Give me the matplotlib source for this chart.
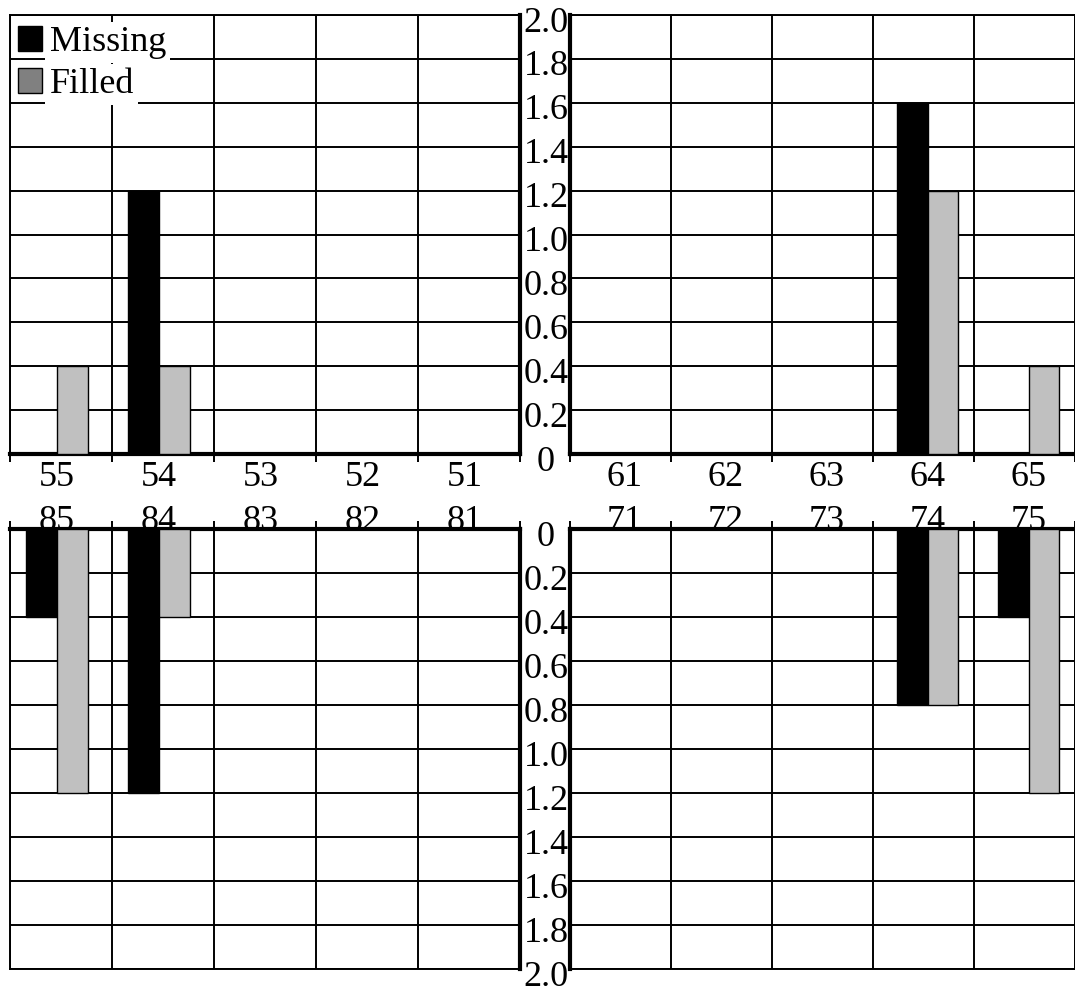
import matplotlib
matplotlib.use('Agg')
import matplotlib.pyplot as plt
import matplotlib.transforms as mtransforms
from matplotlib.patches import Patch
import numpy as np

# tooth numbers per quadrant
upper_left_teeth = ['55', '54', '53', '52', '51']
upper_right_teeth = ['61', '62', '63', '64', '65']
lower_left_teeth = ['85', '84', '83', '82', '81']
lower_right_teeth = ['71', '72', '73', '74', '75']

# values
upper_left_missing = [0, 1.2, 0, 0, 0]
upper_left_filled = [0.4, 0.4, 0, 0, 0]
upper_right_missing = [0, 0, 0, 1.6, 0]
upper_right_filled = [0, 0, 0, 1.2, 0.4]
lower_left_missing = [0.4, 1.2, 0, 0, 0]
lower_left_filled = [1.2, 0.4, 0, 0, 0]
lower_right_missing = [0, 0, 0, 0.8, 0.4]
lower_right_filled = [0, 0, 0, 0.8, 1.2]

y_ticks = [0, 0.2, 0.4, 0.6, 0.8, 1.0, 1.2, 1.4, 1.6, 1.8, 2.0]
y_labels = ['0', '0.2', '0.4', '0.6', '0.8', '1.0', '1.2', '1.4', '1.6', '1.8', '2.0']

plt.rcParams['font.family'] = ['Liberation Serif', 'DejaVu Serif']
FS = 26
GRID_LW = 1.4
THICK_LW = 3.0

W, H = 1075, 990
fig = plt.figure(figsize=(W / 100, H / 100), dpi=100)


def px_axes(x0, y0, x1, y1):
    # axes from pixel box (top-left origin)
    return fig.add_axes([x0 / W, 1 - y1 / H, (x1 - x0) / W, (y1 - y0) / H])


def draw_panel(ax, teeth, missing, filled, upper, left):
    x = np.arange(len(teeth))
    ax.bar(x - 0.15, missing, 0.3, color='black', edgecolor='black', linewidth=1, zorder=3)
    ax.bar(x + 0.15, filled, 0.3, color='#c0c0c0', edgecolor='black', linewidth=1, zorder=3)

    shift = 0.04 if left else -0.04
    lo, hi = -0.5 + shift, len(teeth) - 0.5 + shift
    ax.set_xlim(lo, hi)
    if upper:
        ax.set_ylim(0, 2.0)
    else:
        ax.set_ylim(2.0, 0)

    ax.set_xticks(x)
    ax.set_xticklabels(teeth)
    ax.set_xticks(np.arange(lo, hi + 0.01, 1.0), minor=True)
    ax.set_yticks(y_ticks)
    ax.set_axisbelow(True)
    ax.grid(axis='y', which='major', color='black', linewidth=GRID_LW)
    ax.grid(axis='x', which='minor', color='black', linewidth=GRID_LW)

    if not upper:
        ax.xaxis.tick_top()
    ax.tick_params(axis='x', which='major', length=0, labelsize=FS,
                   pad=5 if upper else -6.5)
    ax.tick_params(axis='x', which='minor', length=6, width=GRID_LW, direction='out')

    if left:
        ax.tick_params(axis='y', length=0, labelleft=False)
    else:
        ax.set_yticklabels(y_labels)
        ax.tick_params(axis='y', length=0, labelsize=FS, pad=17.3)
        for t in ax.get_yticklabels():
            t.set_horizontalalignment('center')
            # labels sit a little below their grid lines
            t.set_transform(t.get_transform() +
                            mtransforms.ScaledTranslation(0, -4 / 100, fig.dpi_scale_trans))

    for s in ax.spines.values():
        s.set_linewidth(GRID_LW)
        s.set_color('black')
    ax.spines['bottom' if upper else 'top'].set_linewidth(THICK_LW)
    ax.spines['right' if left else 'left'].set_linewidth(THICK_LW)


ax_ul = px_axes(10, 15, 520, 454)
ax_ur = px_axes(570, 15, 1075, 454)
ax_ll = px_axes(10, 529, 520, 969)
ax_lr = px_axes(570, 529, 1075, 969)

draw_panel(ax_ul, upper_left_teeth, upper_left_missing, upper_left_filled, True, True)
draw_panel(ax_ur, upper_right_teeth, upper_right_missing, upper_right_filled, True, False)
draw_panel(ax_ll, lower_left_teeth, lower_left_missing, lower_left_filled, False, True)
draw_panel(ax_lr, lower_right_teeth, lower_right_missing, lower_right_filled, False, False)

handles = [Patch(facecolor='black', edgecolor='black'),
           Patch(facecolor='#808080', edgecolor='black')]
leg = ax_ul.legend(handles, ['Missing', 'Filled'], loc='upper left', frameon=False,
                   fontsize=FS, handlelength=0.68, handleheight=0.68,
                   handletextpad=0.2, labelspacing=0.25, borderpad=0.3,
                   borderaxespad=0, bbox_to_anchor=(-0.006, 1.0))
for t in leg.get_texts():
    t.set_bbox(dict(facecolor='white', edgecolor='none', pad=3))

fig.savefig('out.png', dpi=100)
